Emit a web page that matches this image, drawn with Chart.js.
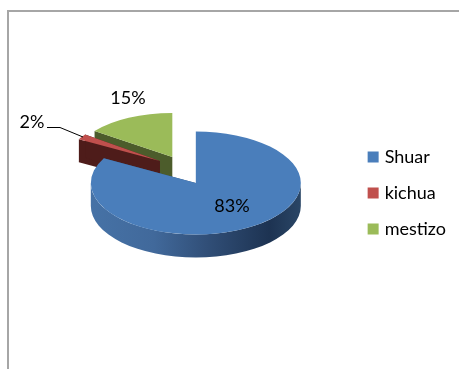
<!DOCTYPE html>
<html>
<head>
<meta charset="utf-8">
<style>
  html, body { margin: 0; padding: 0; background: #fff; overflow: hidden; }
  .frame { position: absolute; left: 7px; top: 10px; width: 452px; height: 359px;
           border-left: 2px solid #a6a6a6; border-top: 2px solid #a6a6a6; box-sizing: border-box; }
  canvas { position: absolute; left: 0; top: 0; }
</style>
</head>
<body>
<div class="frame"></div>
<canvas id="pie" width="459" height="369"></canvas>
<script src="https://cdn.jsdelivr.net/npm/chart.js@4/dist/chart.umd.min.js"></script>
<script>
const categories = ["Shuar", "kichua", "mestizo"];
const shares = [83, 2, 15];
const topColors = ["#4a7ebb", "#c0504d", "#9bbb59"];
const wallColors = ["#2f4f78", "#4e1c1a", "#4c5c2b"];

// each slice is pulled away from the pie centre and shrinks a bit with distance
const slicePlace = [
  { dx: 0, dy: 0, rx: 1, ry: 0.49 },
  { dx: -36, dy: -22, rx: 0.88, ry: 0.43 },
  { dx: -23.5, dy: -26, rx: 0.915, ry: 0.42 },
];
const lift = -10;   // pie sits higher than the legend's centre line
const depth = 23;

const labelSpots = [
  { x: 232, y: 206 },
  { x: 32, y: 122 },
  { x: 128, y: 98 },
];

function placeOf(arc, i) {
  const p = slicePlace[i];
  return {
    cx: arc.x + p.dx,
    cy: arc.y + lift + p.dy,
    rx: arc.outerRadius * p.rx,
    ry: arc.outerRadius * p.ry,
  };
}

function drawWall(ctx, arc, i) {
  const { cx, cy, rx, ry } = placeOf(arc, i);
  const a0 = arc.startAngle, a1 = arc.endAngle;
  const ax = cx + Math.cos(a0) * rx, ay = cy + Math.sin(a0) * ry;
  const bx = cx + Math.cos(a1) * rx, by = cy + Math.sin(a1) * ry;

  // the two cut faces
  ctx.fillStyle = wallColors[i];
  for (const [x, y] of [[ax, ay], [bx, by]]) {
    ctx.beginPath();
    ctx.moveTo(cx, cy);
    ctx.lineTo(x, y);
    ctx.lineTo(x, y + depth);
    ctx.lineTo(cx, cy + depth);
    ctx.closePath();
    ctx.fill();
  }

  // rim, only the part that faces the viewer
  const from = Math.max(a0, 0), to = Math.min(a1, Math.PI);
  if (to > from) {
    const g = ctx.createLinearGradient(cx - rx, 0, cx + rx, 0);
    g.addColorStop(0, "#4672a6");
    g.addColorStop(0.3, "#41699b");
    g.addColorStop(0.55, "#314f78");
    g.addColorStop(0.85, "#1d3352");
    g.addColorStop(1, "#2a4666");
    ctx.fillStyle = g;
    ctx.beginPath();
    ctx.ellipse(cx, cy, rx, ry, 0, from, to);
    ctx.ellipse(cx, cy + depth, rx, ry, 0, to, from, true);
    ctx.closePath();
    ctx.fill();
  }
}

// flattens the library's arcs into a tilted disc with a rim under it
const tiltedPie = {
  id: "tiltedPie",
  beforeDatasetDraw(chart, args) {
    const ctx = chart.ctx;
    const arcs = args.meta.data;
    // back to front: mestizo, kichua, then the big slice on top
    for (const i of [2, 1, 0]) {
      const arc = arcs[i];
      const { cx, cy, rx, ry } = placeOf(arc, i);
      ctx.save();
      drawWall(ctx, arc, i);
      ctx.translate(cx, cy);
      ctx.scale(rx / arc.outerRadius, ry / arc.outerRadius);
      ctx.translate(-arc.x, -arc.y);
      arc.draw(ctx);
      ctx.restore();
    }
    return false;
  },
  afterDatasetsDraw(chart) {
    const ctx = chart.ctx;
    // leader line for the small slice
    ctx.save();
    ctx.strokeStyle = "#000";
    ctx.lineWidth = 1;
    ctx.beginPath();
    ctx.moveTo(47, 127.5);
    ctx.lineTo(60, 127.5);
    ctx.lineTo(83, 137);
    ctx.stroke();

    ctx.fillStyle = "#000";
    ctx.font = "18px Lato";
    ctx.textAlign = "center";
    ctx.textBaseline = "middle";
    shares.forEach((v, i) => {
      ctx.fillText(v + "%", labelSpots[i].x, labelSpots[i].y);
    });
    ctx.restore();
  },
};

const defaultLegendItems = Chart.overrides.pie.plugins.legend.labels.generateLabels;

new Chart(document.getElementById("pie"), {
  type: "pie",
  data: {
    labels: categories,
    datasets: [{
      data: shares,
      backgroundColor: topColors,
      borderWidth: 0,
    }],
  },
  options: {
    responsive: false,
    animation: false,
    radius: 105,
    layout: { padding: { left: 39, top: 17, bottom: 0, right: 3 } },
    plugins: {
      tooltip: { enabled: false },
      legend: {
        position: "right",
        labels: {
          // small box plus thick outline: keeps the text close to the swatch
          boxWidth: 5,
          boxHeight: 5,
          padding: 18,
          color: "#000",
          font: { family: "Lato", size: 18 },
          generateLabels(chart) {
            return defaultLegendItems(chart).map((item) => ({
              ...item,
              strokeStyle: item.fillStyle,
              lineWidth: 6,
            }));
          },
        },
      },
    },
  },
  plugins: [tiltedPie],
});
</script>
</body>
</html>
